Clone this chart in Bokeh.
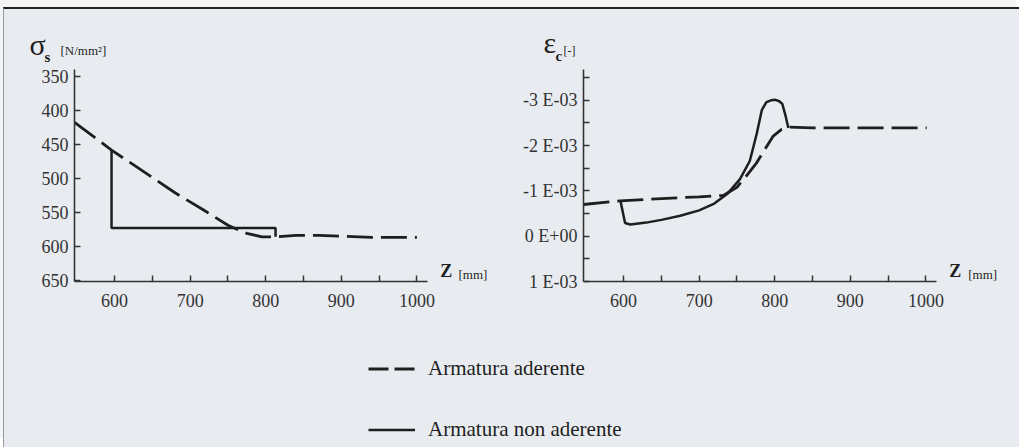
from bokeh.plotting import figure
from bokeh.models import Range1d, FixedTicker, Label, Legend, LegendItem
from bokeh.layouts import column, row
from bokeh.embed import file_html
from bokeh.resources import INLINE

# ---- data ----
z_stress_aderente = [547, 596, 640, 680, 720, 750, 775, 795, 813, 840, 870, 900, 940, 970, 1000]
stress_aderente = [417, 458, 491, 521, 548, 569, 581, 586, 586, 584, 584, 585, 587, 587, 587]
z_stress_non = [596, 596, 813, 813]
stress_non = [458, 573, 573, 586]

# strain values in units of 1E-03
z_strain_aderente = [547, 596, 650, 700, 732, 750, 761, 776, 787, 798, 809, 820, 850, 900, 950, 1001]
strain_aderente = [-0.70, -0.78, -0.83, -0.87, -0.90, -1.08, -1.30, -1.62, -1.92, -2.21, -2.36, -2.41,
                   -2.39, -2.39, -2.39, -2.39]
z_strain_non = [596, 602, 609, 630, 650, 675, 700, 720, 737, 754, 767, 776, 783, 789, 795, 801, 806,
                810, 814, 818]
strain_non = [-0.77, -0.29, -0.26, -0.30, -0.36, -0.45, -0.57, -0.72, -0.93, -1.26, -1.66, -2.25, -2.79,
              -2.96, -3.00, -3.01, -2.98, -2.92, -2.68, -2.39]

z_ticks = [600, 700, 800, 900, 1000]
z_minor_ticks = [650, 750, 850, 950]
stress_ticks = [350, 400, 450, 500, 550, 600, 650]
strain_ticks = [-3, -2, -1, 0, 1]
strain_minor_ticks = [-3.5, -2.5, -1.5, -0.5, 0.5]
strain_tick_labels = ["-3 E-03", "-2 E-03", "-1 E-03", "0 E+00", "1 E-03"]
legend_labels = ["Armatura aderente", "Armatura non aderente"]

BG = "#e8ecf0"
INK = "#1e1e1e"
AX = "#333333"
FONT = "Liberation Serif"
DASH = "26 8"
W_DASH = 2.8
W_SOLID = 2.5


def make_fig(width, left, top, x_end, y_range):
    p = figure(width=width, height=254, x_range=Range1d(547, x_end), y_range=y_range,
               output_backend="svg", toolbar_location=None, tools="",
               min_border_left=left, min_border_right=0, min_border_top=top,
               min_border_bottom=38)
    p.background_fill_color = BG
    p.border_fill_color = BG
    p.outline_line_color = None
    p.grid.visible = False
    for ax in (p.xaxis[0], p.yaxis[0]):
        ax.axis_line_color = AX
        ax.axis_line_width = 1.6
        ax.major_tick_line_color = AX
        ax.major_tick_line_width = 1.5
        ax.minor_tick_line_color = AX
        ax.minor_tick_line_width = 1.5
        ax.major_tick_in = 6
        ax.major_tick_out = 0
        ax.minor_tick_in = 6
        ax.minor_tick_out = 0
        ax.major_label_text_font = FONT
        ax.major_label_text_font_size = "18px"
        ax.major_label_text_color = AX
    p.xaxis[0].ticker = FixedTicker(ticks=z_ticks, minor_ticks=z_minor_ticks)
    p.xaxis[0].bounds = (547, 1014)
    p.xaxis[0].major_label_standoff = 12
    p.yaxis[0].major_label_standoff = 6
    return p


def header(width):
    h = figure(width=width, height=56, x_range=Range1d(0, width), y_range=Range1d(56, 0),
               output_backend="svg", toolbar_location=None, tools="", min_border=0,
               x_axis_type=None, y_axis_type=None)
    h.background_fill_color = BG
    h.border_fill_color = BG
    h.outline_line_color = None
    return h


def lab(p, x, y, text, size, bold=False):
    p.add_layout(Label(x=x, y=y, text=text, text_font=FONT, text_font_size=size,
                       text_font_style="bold" if bold else "normal", text_color=INK,
                       text_baseline="middle", text_align="left"))


# ---- headers with the quantity symbols ----
h1 = header(496)
lab(h1, 25, 35, "σ", "30px")
lab(h1, 40, 47.5, "s", "15px", True)
lab(h1, 56, 40.6, "[N/mm²]", "13px")
h2 = header(519)
lab(h2, 43, 33, "ε", "30px")
lab(h2, 55, 46.5, "c", "15px", True)
lab(h2, 63, 41, "[-]", "12px")

# ---- left: steel stress ----
p1 = make_fig(496, 70, 4, 1110.6, Range1d(652, 339))
p1.yaxis[0].ticker = FixedTicker(ticks=stress_ticks)
p1.line(z_stress_aderente, stress_aderente, line_color=INK, line_width=W_DASH, line_dash=DASH)
p1.line(z_stress_non, stress_non, line_color=INK, line_width=W_SOLID)
lab(p1, 1031, 637.1, "Z", "18px", True)
lab(p1, 1055, 641.1, "[mm]", "13px")

# ---- right: concrete strain ----
p2 = make_fig(519, 83, 2, 1123.8, Range1d(1.0, -3.68))
p2.yaxis[0].ticker = FixedTicker(ticks=strain_ticks, minor_ticks=strain_minor_ticks)
p2.yaxis[0].major_label_overrides = {t: s for t, s in zip(strain_ticks, strain_tick_labels)}
p2.line(z_strain_aderente, strain_aderente, line_color=INK, line_width=W_DASH, line_dash=DASH)
p2.line(z_strain_non, strain_non, line_color=INK, line_width=W_SOLID)
lab(p2, 1031, 0.779, "Z", "18px", True)
lab(p2, 1056, 0.838, "[mm]", "13px")

# ---- legend ----
p3 = figure(width=1015, height=128, x_range=Range1d(0, 1), y_range=Range1d(0, 1),
            output_backend="svg", toolbar_location=None, tools="", min_border=0,
            x_axis_type=None, y_axis_type=None)
p3.background_fill_color = BG
p3.border_fill_color = BG
p3.outline_line_color = None
r1 = p3.line(z_stress_aderente, stress_aderente, line_color=INK, line_width=W_DASH, line_dash="20 6",
             visible=False)
r2 = p3.line(z_stress_non, stress_non, line_color=INK, line_width=W_SOLID, visible=False)
legend = Legend(items=[LegendItem(label=legend_labels[0], renderers=[r1]),
                       LegendItem(label=legend_labels[1], renderers=[r2])],
                location=(364, 5), padding=0, margin=0, spacing=36,
                glyph_width=47, glyph_height=21, label_height=21, label_standoff=13,
                label_text_font=FONT, label_text_font_size="21px", label_text_color=INK,
                border_line_alpha=0, background_fill_alpha=0)
p3.add_layout(legend)

layout = column(row(h1, h2, styles={"background-color": BG}),
                row(p1, p2, styles={"background-color": BG}), p3,
                styles={"border-top": "2px solid #231f20", "border-left": "1px solid #9a9a9a",
                        "margin-top": "7px", "margin-left": "3px", "background-color": BG,
                        "box-shadow": "-3px -9px 0 0 #f3f4f6"})

open("out.html", "w").write(file_html(layout, INLINE))
